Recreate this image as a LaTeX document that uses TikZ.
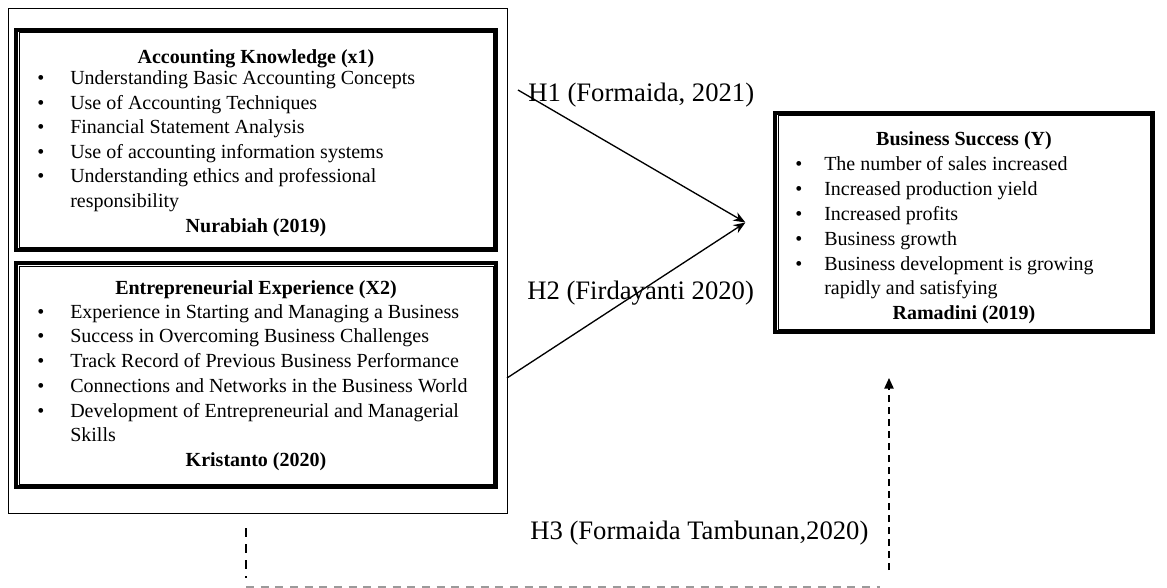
\documentclass[tikz,border=0pt]{standalone}
\usepackage{fontspec}
\setmainfont{Liberation Serif}
\usepackage{xcolor}
\usepackage{tikz}
\usetikzlibrary{arrows.meta,fit}
\definecolor{dashgray}{HTML}{9a9a9a}

\tikzset{
  varbox/.style={draw,line width=2.4pt,inner sep=0pt},
  itemtxt/.style={anchor=base west,inner sep=0pt,font=\fontsize{15}{18}\selectfont},
  headtxt/.style={anchor=base,inner sep=0pt,font=\fontsize{15}{18}\selectfont\bfseries},
  hyptxt/.style={anchor=base west,inner sep=0pt,font=\fontsize{20}{24}\selectfont},
  link/.style={line width=1pt,-{Stealth[length=9pt,width=7pt]}},
}

\begin{document}
\begin{tikzpicture}[x=0.75pt,y=-0.75pt]
  \useasboundingbox (0,0) rectangle (1167,588);
  \node[draw,line width=0.75pt,inner sep=0pt,fit={(8,9) (507,513)}] (frame) {};

  \node[varbox,fit={(16,30) (496,250)}] (ak) {};
  \draw[line width=0.6pt] ([shift={(4.5,4.5)}]ak.north west) rectangle ([shift={(-4.5,-4.5)}]ak.south east);
  \node[headtxt] (ak-t) at (256,64) {Accounting Knowledge (x1)};
  \foreach \txt [count=\i] in {Understanding Basic Accounting Concepts,Use of Accounting Techniques,Financial Statement Analysis,Use of accounting information systems,Understanding ethics and professional}{
    \node[itemtxt] (ak-b\i) at (37,{60.5+24.5*\i}) {\textbullet};
    \node[itemtxt] (ak-\i) at (70,{60.5+24.5*\i}) {\txt};
  }
  \node[itemtxt] (ak-6) at (70,207.5) {responsibility};
  \node[headtxt] (ak-s) at (256,232) {Nurabiah (2019)};

  \node[varbox,fit={(16,263) (496,487)}] (ee) {};
  \draw[line width=0.6pt] ([shift={(4.5,4.5)}]ee.north west) rectangle ([shift={(-4.5,-4.5)}]ee.south east);
  \node[headtxt] (ee-t) at (256,294) {Entrepreneurial Experience (X2)};
  \foreach \txt [count=\i] in {Experience in Starting and Managing a Business,Success in Overcoming Business Challenges,Track Record of Previous Business Performance,Connections and Networks in the Business World,Development of Entrepreneurial and Managerial}{
    \node[itemtxt] (ee-b\i) at (37,{293.5+24.7*\i}) {\textbullet};
    \node[itemtxt] (ee-\i) at (70,{293.5+24.7*\i}) {\txt};
  }
  \node[itemtxt] (ee-6) at (70,441.7) {Skills};
  \node[headtxt] (ee-s) at (256,466.4) {Kristanto (2020)};

  \node[varbox,fit={(775,113) (1153,332)}] (bs) {};
  \draw[line width=0.6pt] ([shift={(4.5,4.5)}]bs.north west) rectangle ([shift={(-4.5,-4.5)}]bs.south east);
  \node[headtxt] (bs-t) at (964,146) {Business Success (Y)};
  \foreach \txt [count=\i] in {The number of sales increased,Increased production yield,Increased profits,Business growth,Business development is growing}{
    \node[itemtxt] (bs-b\i) at (795,{145.5+24.9*\i}) {\textbullet};
    \node[itemtxt] (bs-\i) at (824,{145.5+24.9*\i}) {\txt};
  }
  \node[itemtxt] (bs-6) at (824,294.9) {rapidly and satisfying};
  \node[headtxt] (bs-s) at (964,319.8) {Ramadini (2019)};

  \coordinate (tip) at ([xshift=-21pt]bs.west);
  \coordinate (h1s) at (518,90);
  \coordinate (h2s) at (507,378);
  \draw[link] (h1s) -- (tip);
  \draw[link] (h2s) -- (tip);
  \node[hyptxt] (h1lab) at (528,102) {H1 (Formaida, 2021)};
  \node[hyptxt] (h2lab) at (527,299) {H2 (Firdayanti 2020)};

  \coordinate (h3a) at (246,528);
  \coordinate (h3b) at (246,578);
  \coordinate (h3c) at (246,587);
  \coordinate (h3d) at (880,587);
  \coordinate (h3e) at (889,570);
  \coordinate (h3f) at (889,378);
  \draw[line width=1.1pt,dash pattern=on 6.5pt off 5.5pt] (h3a) -- (h3b);
  \draw[dashgray,line width=0.8pt,dash pattern=on 6pt off 5pt] (h3c) -- (h3d);
  \draw[line width=1.1pt,dash pattern=on 5pt off 4pt,-{Triangle[length=8pt,width=7pt]}] (h3e) -- (h3f);
  \node[hyptxt] (h3lab) at (530,539) {H3 (Formaida Tambunan,2020)};
\end{tikzpicture}
\end{document}
